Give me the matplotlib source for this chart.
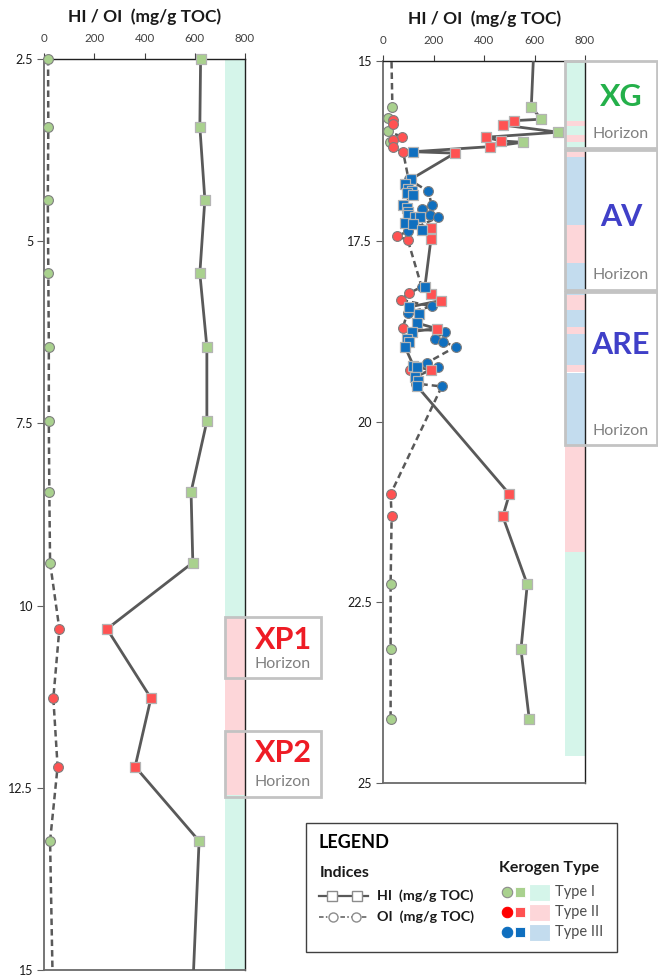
import matplotlib
matplotlib.use("Agg")
import matplotlib.pyplot as plt
import matplotlib.transforms as mtransforms
from matplotlib.patches import Rectangle

plt.rcParams['font.family'] = ['Lato', 'DejaVu Sans']

# ---------------- Rock-Eval indices versus depth ----------------
# Hydrogen index (HI, mg/g TOC)
hi_depth = [2.5, 3.43, 4.43, 5.44, 6.45, 7.47, 8.44, 9.41, 10.32, 11.27, 12.21, 13.23,
            15.64, 15.81, 15.83, 15.89, 15.99, 16.06, 16.11, 16.13, 16.19, 16.26, 16.28,
            16.64, 16.71, 16.77, 16.80, 16.83, 16.86, 17.00, 17.04, 17.09, 17.14, 17.16,
            17.17, 17.25, 17.26, 17.31, 17.34, 17.47,
            18.13, 18.23, 18.32, 18.41, 18.51, 18.63, 18.71, 18.75, 18.85, 18.89, 18.96,
            19.22, 19.24, 19.28, 19.38, 19.44, 19.51,
            21.00, 21.31, 22.25, 23.15, 24.12]
hi_value = [623, 620, 640, 620, 648, 648, 585, 592, 250, 425, 362, 617,
            587, 627, 518, 474, 694, 406, 466, 553, 423, 119, 284,
            110, 86, 99, 115, 93, 119, 79, 93, 99, 99, 126,
            146, 86, 119, 189, 152, 189,
            165, 188, 228, 103, 142, 132, 212, 113, 93, 103, 86,
            119, 132, 188, 126, 139, 135,
            500, 474, 571, 546, 579]
hi_type = ['I'] * 8 + ['II'] * 3 + ['I'] + \
          ['I', 'I', 'II', 'II', 'I', 'II', 'II', 'I', 'II', 'III', 'II'] + \
          ['III'] * 14 + ['II', 'III', 'II'] + \
          ['III', 'II', 'II', 'III', 'III', 'III', 'II', 'III', 'III', 'III', 'III',
           'III', 'III', 'II', 'III', 'III', 'III'] + \
          ['II', 'II', 'I', 'I', 'I']

# Oxygen index (OI, mg/g TOC)
oi_depth = [2.5, 3.43, 4.43, 5.44, 6.45, 7.47, 8.44, 9.41, 10.32, 11.27, 12.21, 13.23,
            15.64, 15.80, 15.82, 15.88, 15.98, 16.05, 16.10, 16.12, 16.19, 16.27,
            16.64, 16.81, 17.00, 17.05, 17.13, 17.17, 17.36, 17.43, 17.48,
            18.13, 18.22, 18.31, 18.40, 18.49, 18.70, 18.75, 18.85, 18.89, 18.96,
            19.18, 19.24, 19.28, 19.47, 19.51,
            21.00, 21.31, 22.25, 23.15, 24.12]
oi_value = [15, 16, 14, 16, 18, 18, 20, 23, 60, 36, 53, 23,
            36, 20, 40, 40, 17, 73, 40, 27, 40, 79,
            100, 179, 192, 152, 185, 216, 99, 53, 97,
            152, 102, 69, 192, 96, 77, 245, 205, 238, 287,
            175, 218, 106, 130, 232,
            29, 33, 29, 29, 29]
oi_type = ['I'] * 8 + ['II'] * 3 + ['I'] + \
          ['I', 'I', 'II', 'II', 'I', 'II', 'II', 'I', 'II', 'II'] + \
          ['III'] * 7 + ['II', 'II'] + \
          ['III', 'II', 'II', 'III', 'III', 'II', 'III', 'III', 'III', 'III',
           'III', 'III', 'II', 'III', 'III'] + \
          ['II', 'II', 'I', 'I', 'I']

# Kerogen type column (depth intervals)
left_band_top = [2.5, 10.15, 12.6]
left_band_bottom = [10.15, 12.6, 15.0]
left_band_type = ['I', 'II', 'I']

right_band_top = [15.00, 15.83, 15.91, 16.03, 16.12, 16.26, 16.33, 17.27, 17.80,
                  18.24, 18.45, 18.68, 18.78, 19.21, 19.33, 20.33, 21.80]
right_band_bottom = [15.83, 15.91, 16.03, 16.12, 16.26, 16.33, 17.27, 17.80, 18.24,
                     18.45, 18.68, 18.78, 19.21, 19.31, 20.33, 21.80, 24.62]
right_band_type = ['I', 'II', 'I', 'II', 'I', 'II', 'III', 'II', 'III',
                   'II', 'III', 'II', 'III', 'II', 'III', 'II', 'I']

# Horizons
horizon_name = ['XP1', 'XP2', 'XG', 'AV', 'ARE']
horizon_panel = [0, 0, 1, 1, 1]
horizon_top = [10.15, 11.72, 15.0, 16.24, 18.20]
horizon_bottom = [11.0, 12.62, 16.21, 18.17, 20.32]

x_ticks = [0, 200, 400, 600, 800]
left_y_ticks = [2.5, 5, 7.5, 10, 12.5, 15]
right_y_ticks = [15, 17.5, 20, 22.5, 25]
axis_title = 'HI / OI  (mg/g TOC)'
type_names = ['Type I', 'Type II', 'Type III']

# ---------------- styles ----------------
marker_color = {'I': '#a9d18e', 'II': '#ff5252', 'III': '#0f6fbf'}
band_color = {'I': '#d5f5ea', 'II': '#fdd6d9', 'III': '#c3dcee'}
horizon_color = {'XP1': '#ee1c25', 'XP2': '#ee1c25', 'XG': '#24b04a',
                 'AV': '#4040c8', 'ARE': '#4040c8'}
name_offset = {'XP1': 0.38, 'XP2': 0.33, 'XG': 0.42, 'AV': 0.48, 'ARE': 0.35}
line_color = '#595959'

W, H = 658, 977
fig = plt.figure(figsize=(W / 100, H / 100), dpi=100)


def px_axes(x0, y0, x1, y1):
    return fig.add_axes([x0 / W, 1 - y1 / H, (x1 - x0) / W, (y1 - y0) / H])


ax_left = px_axes(44.3, 59, 245, 970)
ax_right = px_axes(383.3, 60.7, 585, 783)

panels = [
    (ax_left, (2.5, 15), left_band_top, left_band_bottom, left_band_type, left_y_ticks, 1.379),
    (ax_right, (15, 25), right_band_top, right_band_bottom, right_band_type, right_y_ticks, 1.355),
]

for idx, (ax, (d0, d1), btop, bbot, btype, yticks, box_right) in enumerate(panels):
    ax.set_xlim(0, 800)
    ax.set_ylim(d1, d0)

    for t, b, k in zip(btop, bbot, btype):
        ax.fill_betweenx([t, b], 720, 800, color=band_color[k], lw=0, zorder=1)

    ax.plot(oi_value, oi_depth, color=line_color, lw=1.8, ls=(0, (2.6, 1.6)), zorder=3)
    ax.plot(hi_value, hi_depth, color=line_color, lw=2.0, zorder=3)

    for k in ['I', 'II', 'III']:
        xs = [v for v, d, t in zip(oi_value, oi_depth, oi_type) if t == k and d0 <= d <= d1]
        ys = [d for d, t in zip(oi_depth, oi_type) if t == k and d0 <= d <= d1]
        ax.scatter(xs, ys, s=50, marker='o', facecolor=marker_color[k],
                   edgecolor='#7f7f7f', linewidth=0.8, zorder=4, clip_on=False)
    for k in ['I', 'II', 'III']:
        xs = [v for v, d, t in zip(hi_value, hi_depth, hi_type) if t == k and d0 <= d <= d1]
        ys = [d for d, t in zip(hi_depth, hi_type) if t == k and d0 <= d <= d1]
        ax.scatter(xs, ys, s=46, marker='s', facecolor=marker_color[k],
                   edgecolor='#b4b4b4', linewidth=0.9, zorder=5, clip_on=False)

    ax.set_xticks(x_ticks)
    ax.set_yticks(yticks)
    ax.set_yticklabels([f'{v:g}' for v in yticks])
    ax.xaxis.tick_top()
    ax.xaxis.set_label_position('top')
    ax.set_xlabel(axis_title, fontsize=12.5, fontweight='bold', color='#1a1a1a', labelpad=8)
    ax.tick_params(axis='x', labelsize=8.3, colors='#404040', length=4, pad=6.5, width=0.8)
    ax.tick_params(axis='y', labelsize=9, colors='#606060', labelcolor='#1a1a1a',
                   length=5, pad=3, width=0.8)
    for side in ['left', 'bottom']:
        ax.spines[side].set_color('#6a6a6a')
        ax.spines[side].set_linewidth(1.3)
    for side in ['top', 'right']:
        ax.spines[side].set_color('#202020')
        ax.spines[side].set_linewidth(1.0)

    # Horizon boxes
    trans = mtransforms.blended_transform_factory(ax.transAxes, ax.transData)
    for name, p, t, b in zip(horizon_name, horizon_panel, horizon_top, horizon_bottom):
        if p != idx:
            continue
        ax.add_patch(Rectangle((0.9, t), box_right - 0.9, b - t, transform=trans,
                               facecolor='none', edgecolor='#c3c3c3', lw=2.0,
                               zorder=6, clip_on=False))
        xc = (1.0 + box_right) / 2
        ny = t + name_offset[name] * (b - t)
        ax.text(xc, ny, name, transform=trans, ha='center', va='center',
                fontsize=22, fontweight='bold', color=horizon_color[name], zorder=7)
        ax.text(xc, b - 0.2, 'Horizon', transform=trans, ha='center',
                va='center', fontsize=11.5, color='#808080', zorder=7)

# ---------------- legend ----------------
lg = fig.add_axes([0, 0, 1, 1], zorder=10)
lg.set_xlim(0, W)
lg.set_ylim(H, 0)
lg.axis('off')
lg.patch.set_alpha(0)

lg.add_patch(Rectangle((306, 823), 311, 129, facecolor='white', edgecolor='#404040', lw=1.0))
lg.text(318, 843, 'LEGEND', fontsize=13, fontweight='bold', color='black', va='center')
lg.text(320, 873, 'Indices', fontsize=11.5, fontweight='bold', color='#1a1a1a', va='center')

lg.plot([319, 368], [896, 896], color=line_color, lw=1.6)
lg.plot([332, 357], [896, 896], ls='none', marker='s', ms=6.5, mfc='white', mec='#8c8c8c', mew=1)
lg.text(377, 896, 'HI  (mg/g TOC)', fontsize=10.3, fontweight='bold', color='#1a1a1a', va='center')

lg.plot([319, 368], [916.5, 916.5], color=line_color, lw=1.1, ls=(0, (3, 1.5, 1, 1.5)))
lg.plot([333, 356], [916.5, 916.5], ls='none', marker='o', ms=6.5, mfc='white', mec='#8c8c8c', mew=1)
lg.text(377, 916.5, 'OI  (mg/g TOC)', fontsize=10.3, fontweight='bold', color='#1a1a1a', va='center')

lg.text(499, 868, 'Kerogen Type', fontsize=11.5, fontweight='bold', color='#1a1a1a', va='center')
legend_circle = {'I': '#a9d18e', 'II': '#ff0000', 'III': '#0f6fbf'}
for i, (k, label) in enumerate(zip(['I', 'II', 'III'], type_names)):
    y = 892 + 20 * i
    lg.plot([507], [y], ls='none', marker='o', ms=7.5, mfc=legend_circle[k],
            mec='#8c8c8c' if k == 'I' else legend_circle[k], mew=0.8)
    lg.plot([520], [y], ls='none', marker='s', ms=7.5, mfc=marker_color[k],
            mec='white', mew=0.6)
    lg.add_patch(Rectangle((529, y - 8.5), 21, 17, facecolor=band_color[k], edgecolor='white', lw=0.8))
    lg.text(555, y, label, fontsize=10.5, color='#4d4d4d', va='center')

fig.savefig('out.png', dpi=100)
